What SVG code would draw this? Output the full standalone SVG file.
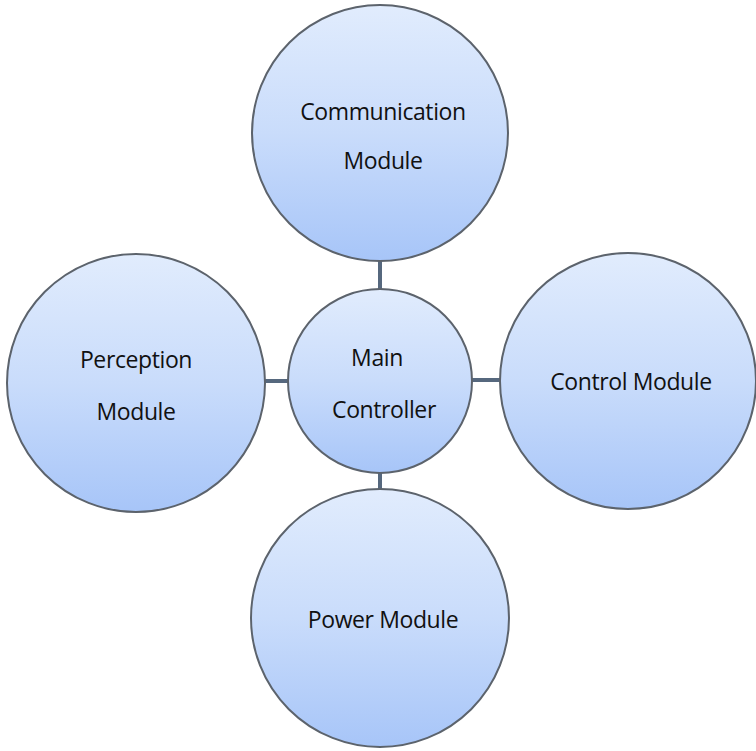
<svg xmlns="http://www.w3.org/2000/svg" width="756" height="751" viewBox="0 0 756 751">
<defs>
<linearGradient id="g" x1="0" y1="0" x2="0" y2="1">
<stop offset="0" stop-color="#e1ecfd"/>
<stop offset="0.5" stop-color="#c9dcfb"/>
<stop offset="1" stop-color="#a7c5f8"/>
</linearGradient>
<style>
.n{fill:url(#g);stroke:#5c636c;stroke-width:2}
.c{stroke:#56687e;stroke-width:4;fill:none}
text{font-family:"Open Sans","Noto Sans","DejaVu Sans",sans-serif;font-size:23px;font-weight:500;fill:#111;text-anchor:middle;letter-spacing:-0.4px}
</style>
</defs>
<rect width="756" height="751" fill="#fff"/>
<g id="connectors">
<line class="c" x1="380" y1="260" x2="380" y2="290"/>
<line class="c" x1="380" y1="472" x2="380" y2="490"/>
<line class="c" x1="264" y1="381" x2="289" y2="381"/>
<line class="c" x1="471" y1="380" x2="501" y2="380"/>
</g>
<g id="communication">
<circle class="n" cx="380" cy="133" r="128"/>
<text x="383" y="120">Communication</text>
<text x="383" y="169">Module</text>
</g>
<g id="main">
<circle class="n" cx="380" cy="381" r="92"/>
<text x="377" y="366">Main</text>
<text x="384" y="418">Controller</text>
</g>
<g id="perception">
<circle class="n" cx="136" cy="383" r="129"/>
<text x="136" y="368">Perception</text>
<text x="136" y="420">Module</text>
</g>
<g id="control">
<circle class="n" cx="628" cy="381" r="128"/>
<text x="631" y="390">Control Module</text>
</g>
<g id="power">
<circle class="n" cx="380" cy="618" r="129"/>
<text x="383" y="628">Power Module</text>
</g>
</svg>
